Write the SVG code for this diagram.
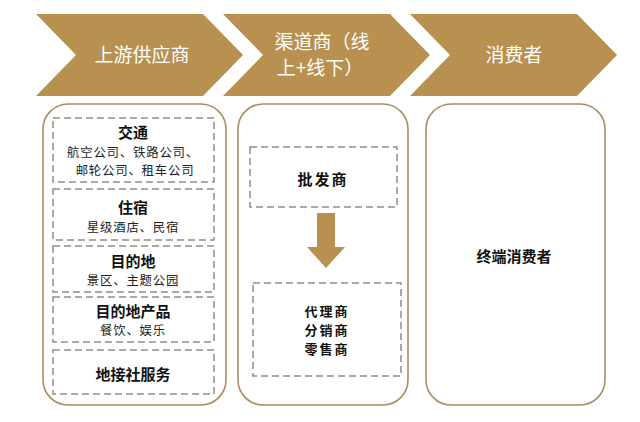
<svg xmlns="http://www.w3.org/2000/svg" width="640" height="422" viewBox="0 0 640 422">
<style>
.chev{fill:#B8904F}
.ct{font-family:"Noto Sans CJK SC","Noto Sans",sans-serif;font-size:19px;fill:#ffffff;text-anchor:middle}
.panel{fill:#ffffff;stroke:#A88C62;stroke-width:1.6}
.dash{fill:none;stroke:#928C84;stroke-width:1.5;stroke-dasharray:7,4}
.t{font-family:"Noto Sans CJK SC","Noto Sans",sans-serif;font-size:15px;font-weight:bold;fill:#111111;text-anchor:middle}
.s{font-family:"Noto Sans CJK SC","Noto Sans",sans-serif;font-size:12.4px;fill:#222222;text-anchor:middle;letter-spacing:0.8px}
.m{font-family:"Noto Sans CJK SC","Noto Sans",sans-serif;font-size:13px;font-weight:bold;fill:#111111;text-anchor:middle;letter-spacing:2px}
</style>
<rect width="640" height="422" fill="#ffffff"/>
<g id="stage1">
<polygon class="chev" points="36,14 203,14 243,55 203,96 36,96 76,55"/>
<text class="ct" x="142" y="62">上游供应商</text>
</g>
<g id="stage2">
<polygon class="chev" points="223,14 390,14 430,55 390,96 223,96 263,55"/>
<text class="ct" x="322" y="49">渠道商（线</text>
<text class="ct" x="320" y="75">上+线下）</text>
</g>
<g id="stage3">
<polygon class="chev" points="410,14 577,14 617,55 577,96 410,96 450,55"/>
<text class="ct" x="514" y="62">消费者</text>
</g>
<g id="panel1">
<rect class="panel" x="43" y="104" width="183" height="301" rx="25"/>
<g id="transport">
<rect class="dash" x="53" y="118" width="161" height="64"/>
<text class="t" x="133" y="138">交通</text>
<text class="s" x="133" y="157">航空公司、铁路公司、</text>
<text class="s" x="135" y="175">邮轮公司、租车公司</text>
</g>
<g id="lodging">
<rect class="dash" x="53" y="189" width="161" height="51"/>
<text class="t" x="133" y="213">住宿</text>
<text class="s" x="133" y="232">星级酒店、民宿</text>
</g>
<g id="destination">
<rect class="dash" x="53" y="246" width="161" height="46"/>
<text class="t" x="133" y="267">目的地</text>
<text class="s" x="133" y="285">景区、主题公园</text>
</g>
<g id="destproducts">
<rect class="dash" x="53" y="297" width="161" height="45"/>
<text class="t" x="133" y="317">目的地产品</text>
<text class="s" x="133" y="335">餐饮、娱乐</text>
</g>
<g id="localagency">
<rect class="dash" x="53" y="350" width="161" height="44"/>
<text class="t" x="133" y="380">地接社服务</text>
</g>
</g>
<g id="panel2">
<rect class="panel" x="238" y="104" width="170" height="301" rx="25"/>
<g id="wholesaler">
<rect class="dash" x="250" y="147" width="147" height="60"/>
<text class="t" x="323" y="185" letter-spacing="2">批发商</text>
</g>
<g id="retailers">
<rect class="dash" x="253" y="283" width="148" height="93"/>
<text class="m" x="327" y="316">代理商</text>
<text class="m" x="327" y="335">分销商</text>
<text class="m" x="327" y="354">零售商</text>
</g>
</g>
<g id="connectors">
<polygon class="chev" points="317,213 335,213 335,247 345,247 326,268 307,247 317,247"/>
</g>
<g id="panel3">
<rect class="panel" x="426" y="104" width="179" height="301" rx="25"/>
<text class="t" x="514" y="262" font-size="16">终端消费者</text>
</g>
</svg>
